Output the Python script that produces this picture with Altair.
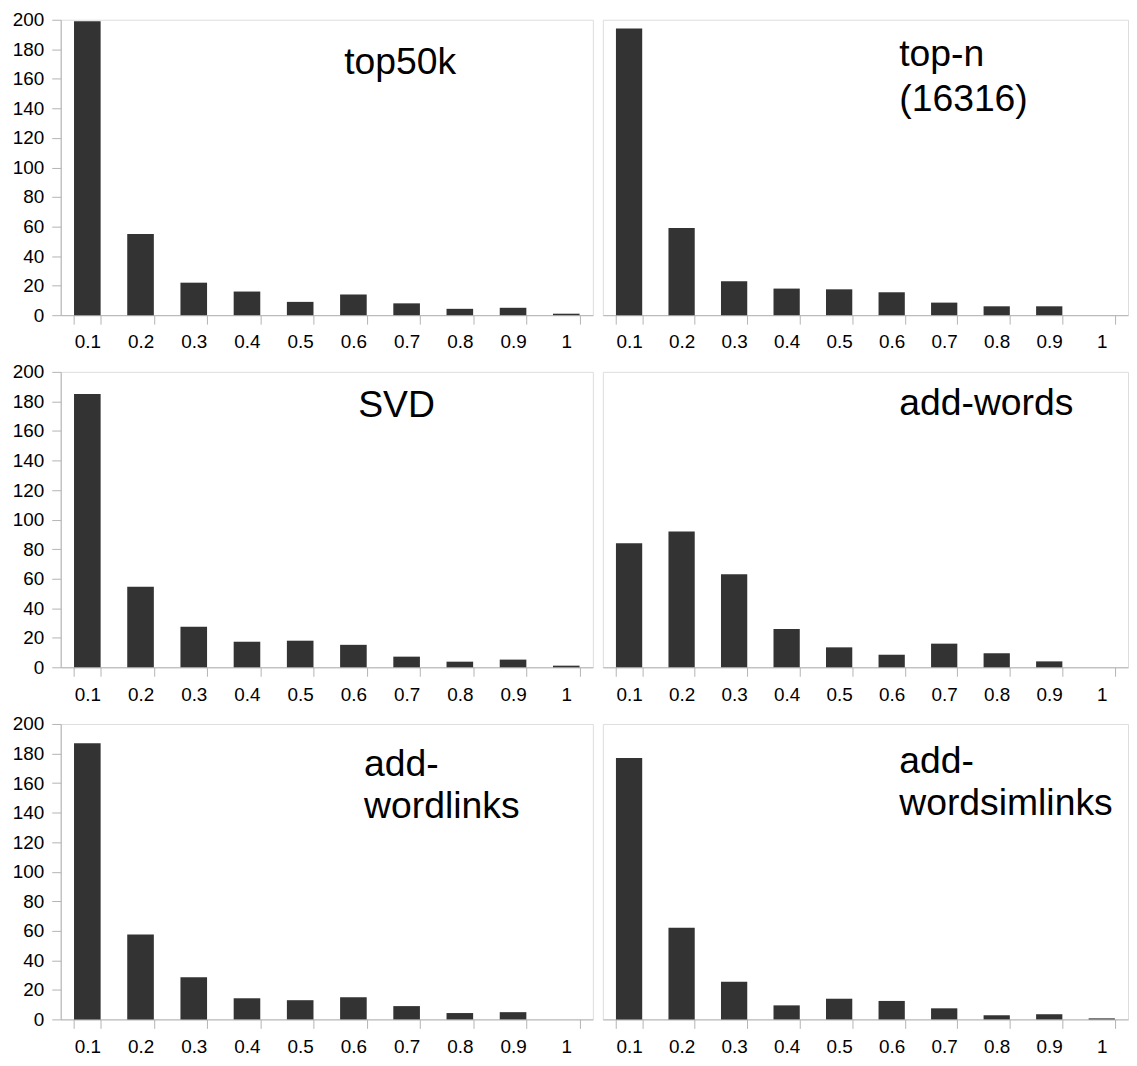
import altair as alt
import pandas as pd

categories = ["0.1", "0.2", "0.3", "0.4", "0.5", "0.6", "0.7", "0.8", "0.9", "1"]

top50k = [199, 55, 22, 16, 9, 14, 8, 4.3, 5, 1]
top_n = [194, 59, 23, 18, 17.5, 15.5, 8.5, 6, 6, 0]
svd = [185, 54.5, 27.5, 17.3, 18, 15.2, 7.2, 3.8, 5.2, 1.1]
add_words = [84, 92, 63, 26, 13.5, 8.5, 16, 9.5, 4, 0]
add_wordlinks = [187, 57.4, 28.5, 14.3, 13, 15, 9, 4.3, 4.9, 0]
add_wordsimlinks = [177, 62, 25.5, 9.5, 14, 12.5, 7.5, 2.8, 3.5, 0.7]

titles = {
    "top50k": ["top50k"],
    "top_n": ["top-n", "(16316)"],
    "svd": ["SVD"],
    "add_words": ["add-words"],
    "add_wordlinks": ["add-", "wordlinks"],
    "add_wordsimlinks": ["add-", "wordsimlinks"],
}

y_ticks = [0, 20, 40, 60, 80, 100, 120, 140, 160, 180, 200]

FONT = "Liberation Sans"
GRAY = "#b3b3b3"
WL, WR, H = 535, 528, 297


def panel(values, title_lines, show_y, tx, ty, lh=43):
    df = pd.DataFrame({"bin": categories, "count": values})
    if show_y:
        yaxis = alt.Axis(values=y_ticks, title=None, grid=False, labelFont=FONT,
                         labelFontSize=19, labelColor="black", tickColor=GRAY,
                         domainColor=GRAY, tickSize=9, labelPadding=8)
    else:
        yaxis = None
    bars = alt.Chart(df).mark_bar(color="#333333").encode(
        x=alt.X("bin:N", sort=categories,
                scale=alt.Scale(paddingInner=0.5, paddingOuter=0.25),
                axis=alt.Axis(title=None, labelAngle=0, tickBand="extent",
                              labelFont=FONT, labelFontSize=19, labelColor="black",
                              tickColor=GRAY, domainColor=GRAY, tickSize=9,
                              labelPadding=9)),
        y=alt.Y("count:Q", scale=alt.Scale(domain=[0, 200], nice=False), axis=yaxis),
    )
    label = alt.Chart(alt.Data(values=[{"t": 1}])).mark_text(
        text=title_lines, font=FONT, fontSize=37.5, color="black",
        align="left", baseline="alphabetic", lineHeight=lh,
    ).encode(x=alt.value(tx), y=alt.value(ty))
    return alt.layer(bars, label).properties(width=WL if show_y else WR, height=H)


row1 = alt.hconcat(
    panel(top50k, titles["top50k"], True, 285, 55),
    panel(top_n, titles["top_n"], False, 298, 46, lh=46),
    spacing=8,
)
row2 = alt.hconcat(
    panel(svd, titles["svd"], True, 299, 45),
    panel(add_words, titles["add_words"], False, 298, 43),
    spacing=8,
)
row3 = alt.hconcat(
    panel(add_wordlinks, titles["add_wordlinks"], True, 305, 52),
    panel(add_wordsimlinks, titles["add_wordsimlinks"], False, 298, 49),
    spacing=8,
)

chart = alt.vconcat(row1, row2, row3, spacing=9).properties(
    padding={"left": 3, "top": -1, "right": 0, "bottom": 0}
).configure_view(stroke=GRAY, strokeWidth=1).configure(background="white")

chart.save("out.html", embed_options={"renderer": "svg", "actions": False})
